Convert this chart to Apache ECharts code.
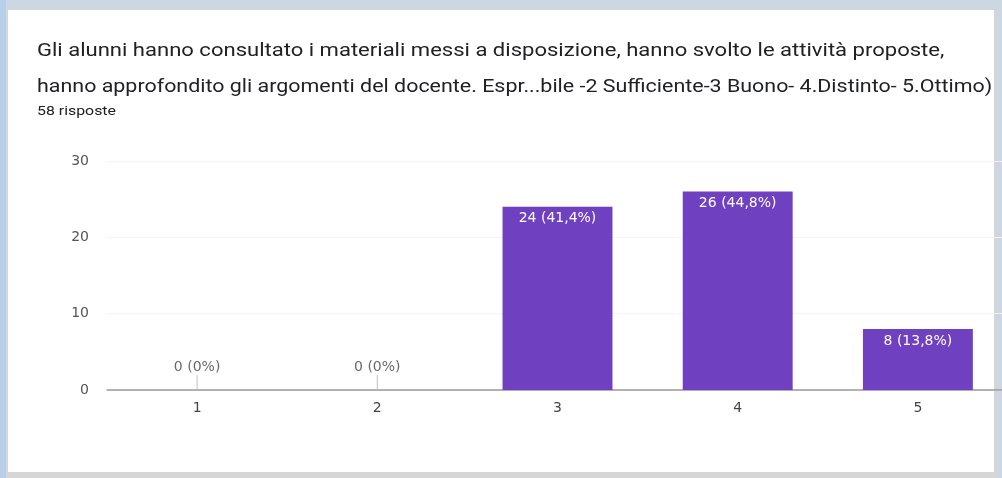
<!DOCTYPE html>
<html>
    <head>
        <meta charset="utf-8">
        <script src="https://cdn.jsdelivr.net/npm/echarts@6/dist/echarts.min.js"></script>
    </head>
    <body style="margin:0">
        <style>
            html, body, #main {
                width: 100%;
                height: 100%;
                margin: 0;
                background: #cdd7e2;
            }
        </style>
        <div id="main"></div>
        <script>
            var categories = ['1', '2', '3', '4', '5'];
            var counts = [0, 0, 24, 26, 8];
            var percents = ['0%', '0%', '41,4%', '44,8%', '13,8%'];
            var titleLines = [
                'Gli alunni hanno consultato i materiali messi a disposizione, hanno svolto le attività proposte,',
                'hanno approfondito gli argomenti del docente. Espr...bile -2 Sufficiente-3 Buono- 4.Distinto- 5.Ottimo)'
            ];
            var responses = '58 risposte';

            var chart = echarts.init(document.getElementById('main'));

            function labelOf(i) {
                return counts[i] + ' (' + percents[i] + ')';
            }

            var zeroPoints = [];
            counts.forEach(function (v, i) {
                if (v === 0) {
                    zeroPoints.push([categories[i], 0]);
                }
            });

            var chartFont = 'DejaVu Sans';

            chart.setOption({
                backgroundColor: '#cdd7e2',
                animation: false,
                graphic: [
                    // blue strip on the left
                    { type: 'rect', left: 0, top: 0, shape: { width: 6, height: 478 },
                      style: { fill: '#b7cfe9' }, z: -10 },
                    // card with its shadow
                    { type: 'rect', left: 6, top: 10, shape: { width: 990, height: 468 },
                      style: { fill: '#d6d6d6' }, z: -9 },
                    { type: 'rect', left: 8, top: 10, shape: { width: 986, height: 462 },
                      style: { fill: '#ffffff' }, z: -8 },
                    // title, two lines (the screenshot is stretched a bit sideways)
                    { type: 'text', x: 37, y: 42, scaleX: 1.16,
                      style: { text: titleLines[0], fill: '#202124', font: '19px Roboto' } },
                    { type: 'text', x: 37, y: 78, scaleX: 1.128,
                      style: { text: titleLines[1], fill: '#202124', font: '19px Roboto' } },
                    { type: 'text', x: 37, y: 105, scaleX: 1.22,
                      style: { text: responses, fill: '#202124', font: '13px Roboto' } }
                ],
                grid: {
                    left: 107,
                    right: -6,
                    top: 161,
                    bottom: 88,
                    outerBoundsMode: 'none'
                },
                xAxis: {
                    type: 'category',
                    data: categories,
                    axisTick: { show: false },
                    axisLine: { lineStyle: { color: '#9a9a9a', width: 1.5 } },
                    axisLabel: { color: '#444', fontSize: 14, fontFamily: chartFont, margin: 11 }
                },
                yAxis: {
                    type: 'value',
                    min: 0,
                    max: 30,
                    interval: 10,
                    axisLabel: { color: '#555', fontSize: 14, fontFamily: chartFont, margin: 18 },
                    splitLine: { lineStyle: { color: '#f3f3f3' } }
                },
                series: [
                    {
                        type: 'bar',
                        data: counts,
                        barWidth: '61%',
                        itemStyle: { color: '#6f40c0' },
                        label: {
                            show: true,
                            position: 'insideTop',
                            distance: 5,
                            color: '#ffffff',
                            fontSize: 14,
                            fontFamily: chartFont,
                            formatter: function (p) {
                                return p.value > 0 ? labelOf(p.dataIndex) : '';
                            }
                        }
                    },
                    {
                        type: 'scatter',
                        data: zeroPoints,
                        symbol: 'rect',
                        symbolSize: [1, 15],
                        symbolOffset: [0, -7.5],
                        itemStyle: { color: '#b0b0b0' },
                        label: {
                            show: true,
                            position: 'top',
                            distance: 1,
                            color: '#444',
                            fontSize: 14,
                            fontFamily: chartFont,
                            formatter: function (p) {
                                return labelOf(categories.indexOf(p.value[0]));
                            }
                        }
                    }
                ]
            });
        </script>
    </body>
</html>
